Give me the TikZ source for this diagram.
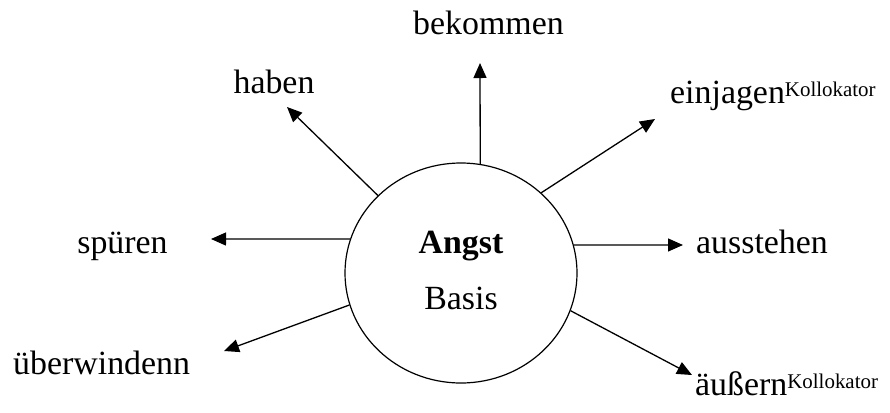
\documentclass[tikz,border=0pt]{standalone}
\usepackage{fontspec}
\setmainfont{Liberation Serif}
\usetikzlibrary{shapes.geometric,arrows.meta}
\newcommand\kollsup{\raisebox{6.5bp}{\fontsize{21}{21}\selectfont Kollokator}}
\begin{document}
\begin{tikzpicture}[x=1bp,y=-1bp,
  word/.style={inner sep=0pt, font=\fontsize{34}{40}\selectfont},
  link/.style={line width=1.3bp, -{Triangle[length=15bp,width=13bp]}},
  core/.style={ellipse, draw, line width=1.2bp, minimum width=232bp,
    minimum height=220bp, inner sep=0pt}]
\useasboundingbox (0,0) rectangle (890,412);

% central concept
\node[core] (c) at (461,273) {};
\node[word, font=\fontsize{34}{40}\selectfont\bfseries, anchor=base] (angst) at (461,253) {Angst};
\node[word, anchor=base] (basis) at (461,309) {Basis};

% surrounding verbs
\node[word, anchor=base] (haben) at (274,93) {haben};
\node[word, anchor=base] (bekommen) at (488.5,34) {bekommen};
\node[word, anchor=base west] (einjagen) at (670,103) {einjagen\kollsup};
\node[word, anchor=base west] (ausstehen) at (696,253) {ausstehen};
\node[word, anchor=base] (spueren) at (122.5,253) {spüren};
\node[word, anchor=base west] (ueberwinden) at (13,374) {überwindenn};
\node[word, anchor=base west] (aeussern) at (695,395) {äußern\kollsup};

% arrow tips
\coordinate (tHaben) at (287,107);
\coordinate (tBekommen) at (480,63);
\coordinate (tEinjagen) at (655,119);
\coordinate (tAusstehen) at (683,245);
\coordinate (tSpueren) at (211,239);
\coordinate (tUeber) at (224,351);
\coordinate (tAeussern) at (692,375);

% arrows leaving the circle
\draw[link] (c.137) -- (tHaben);
\draw[link] (c.80.2) -- (tBekommen);
\draw[link] (c.45.4) -- (tEinjagen);
\draw[link] (c.14) -- (tAusstehen);
\draw[link] (c.163) -- (tSpueren);
\draw[link] (c.196.4) -- (tUeber);
\draw[link] (c.341.7) -- (tAeussern);
\end{tikzpicture}
\end{document}
